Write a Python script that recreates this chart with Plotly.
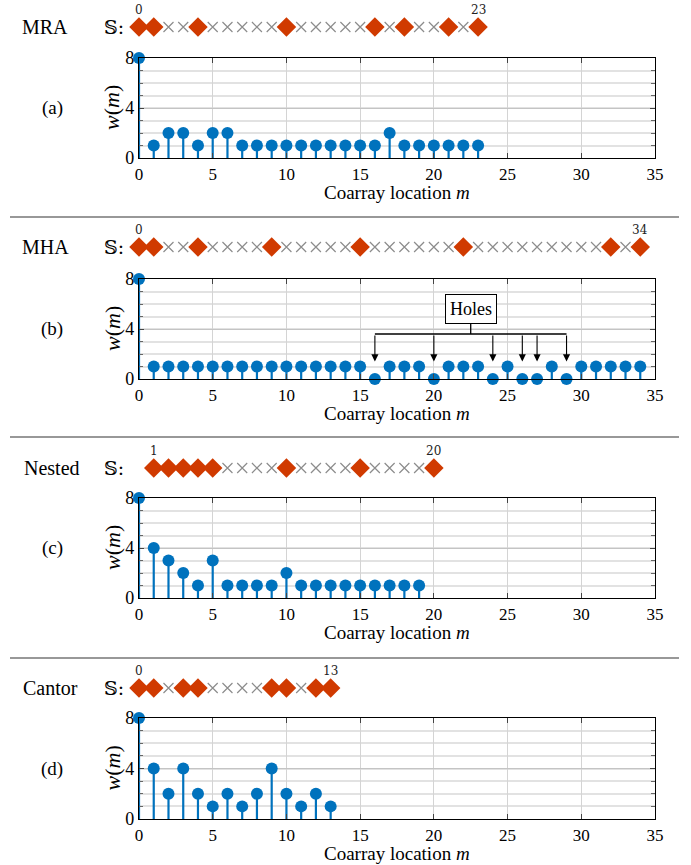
import plotly.graph_objects as go

# ---------------- data ----------------
panel_names = ["MRA", "MHA", "Nested", "Cantor"]
panel_tags = ["(a)", "(b)", "(c)", "(d)"]

mra_sensors = [0, 1, 4, 10, 16, 18, 21, 23]
mha_sensors = [0, 1, 4, 9, 15, 22, 32, 34]
nested_sensors = [1, 2, 3, 4, 5, 10, 15, 20]
cantor_sensors = [0, 1, 3, 4, 9, 10, 12, 13]

mra_weights = [8, 1, 2, 2, 1, 2, 2, 1, 1, 1, 1, 1, 1, 1, 1, 1, 1, 2, 1, 1, 1, 1, 1, 1]
mha_weights = [8, 1, 1, 1, 1, 1, 1, 1, 1, 1, 1, 1, 1, 1, 1, 1, 0, 1, 1, 1, 0, 1, 1, 1,
               0, 1, 0, 0, 1, 0, 1, 1, 1, 1, 1]
nested_weights = [8, 4, 3, 2, 1, 3, 1, 1, 1, 1, 2, 1, 1, 1, 1, 1, 1, 1, 1, 1]
cantor_weights = [8, 4, 2, 4, 2, 1, 2, 1, 2, 4, 2, 1, 2, 1]

x_ticks = [0, 5, 10, 15, 20, 25, 30, 35]
y_ticks = [0, 4, 8]

sensors_all = [mra_sensors, mha_sensors, nested_sensors, cantor_sensors]
weights_all = [mra_weights, mha_weights, nested_weights, cantor_weights]

# ---------------- layout helpers (pixel -> paper) ----------------
W, H = 691, 865
def px(x):
    return x / W
def py(y):
    return 1 - y / H

BLUE = "#0072BD"
RED = "#D03A00"
GREY = "#8c8c8c"
SERIF = "Liberation Serif"

plot_left, plot_right = 139, 655
plot_tops = [58, 279, 498, 718]
plot_bottoms = [158, 379, 598, 819]
row_y = [27, 247, 468, 688]
sep_y = [217, 437, 658]

fig = go.Figure()
annotations = []
shapes = []

def txt(x, y, text, size=19, family=SERIF, **kw):
    d = dict(x=x, y=y, xref="paper", yref="paper", text=text, showarrow=False,
             xanchor="center", yanchor="middle",
             font=dict(family=family, size=size, color="black"))
    d.update(kw)
    return d

for i in range(4):
    k = i + 1
    kr = i + 5
    xa = "x" if k == 1 else f"x{k}"
    ya = "y" if k == 1 else f"y{k}"
    xr = f"x{kr}"
    yr = f"y{kr}"
    w = weights_all[i]
    m = list(range(len(w)))

    # stems
    sx, sy = [], []
    for mm, ww in zip(m, w):
        sx += [mm, mm, None]
        sy += [0, ww, None]
    fig.add_trace(go.Scatter(x=sx, y=sy, mode="lines", line=dict(color=BLUE, width=2.2),
                             xaxis=xa, yaxis=ya, showlegend=False, hoverinfo="skip",
                             cliponaxis=False))
    fig.add_trace(go.Scatter(x=m, y=w, mode="markers",
                             marker=dict(color=BLUE, size=12, symbol="circle"),
                             xaxis=xa, yaxis=ya, showlegend=False, cliponaxis=False))

    # sensor row
    sens = sensors_all[i]
    start, end = min(sens), max(sens)
    empty = [p for p in range(start, end + 1) if p not in sens]
    fig.add_trace(go.Scatter(x=empty, y=[0] * len(empty), mode="markers",
                             marker=dict(symbol="x-thin", size=10,
                                         line=dict(color=GREY, width=1.2)),
                             xaxis=xr, yaxis=yr, showlegend=False, cliponaxis=False))
    fig.add_trace(go.Scatter(x=sens, y=[0] * len(sens), mode="markers",
                             marker=dict(symbol="diamond", size=15, color=RED),
                             xaxis=xr, yaxis=yr, showlegend=False, cliponaxis=False))
    for p in (start, end):
        annotations.append(dict(x=p, y=py(row_y[i] - 17), xref=xr, yref="paper",
                                text=str(p), showarrow=False,
                                xanchor="center", yanchor="middle",
                                font=dict(family="DejaVu Serif", size=12, color="#222")))

    # axes
    dom_x = [px(plot_left), px(plot_right)]
    dom_y = [py(plot_bottoms[i]), py(plot_tops[i])]
    xkey = "xaxis" if k == 1 else f"xaxis{k}"
    ykey = "yaxis" if k == 1 else f"yaxis{k}"
    fig.layout[xkey] = dict(domain=dom_x, anchor=ya, range=[0, 35], tickvals=x_ticks,
                            automargin=False,
                            showgrid=True, gridcolor="#d4d4d4", gridwidth=1,
                            ticks="inside", ticklen=5, tickcolor="#444",
                            showline=True, linecolor="black", linewidth=1.3, mirror="ticks",
                            zeroline=False, tickfont=dict(family=SERIF, size=17, color="black"))
    fig.layout[ykey] = dict(domain=dom_y, anchor=xa, range=[0, 8], tickvals=y_ticks,
                            automargin=False,
                            showgrid=True, gridcolor="#c4c4c4", gridwidth=1,
                            ticks="inside", ticklen=5, tickcolor="#444",
                            minor=dict(dtick=1, showgrid=True, gridcolor="#e2e2e2",
                                       gridwidth=2, ticks="inside", ticklen=4,
                                       tickcolor="#666"),
                            showline=True, linecolor="black", linewidth=1.3, mirror="ticks",
                            zeroline=False, tickfont=dict(family=SERIF, size=18, color="black"))
    fig.layout[f"xaxis{kr}"] = dict(domain=dom_x, anchor=yr, range=[0, 35], visible=False,
                                    automargin=False)
    fig.layout[f"yaxis{kr}"] = dict(domain=[py(row_y[i] + 10), py(row_y[i] - 10)],
                                    anchor=xr, range=[-1, 1], visible=False, automargin=False)

    # texts
    mid_y = (plot_tops[i] + plot_bottoms[i]) / 2
    annotations.append(txt((px(plot_left) + px(plot_right)) / 2, py(plot_bottoms[i] + 34),
                           "Coarray location <i>m</i>", size=19))
    annotations.append(txt(px(112), py(mid_y), "<i>w</i>(<i>m</i>)", size=22, textangle=-90))
    annotations.append(txt(px(52), py(mid_y), panel_tags[i]))
    name_x = [45, 45, 52, 50][i]
    annotations.append(txt(px(name_x), py(row_y[i]), panel_names[i], size=20))
    annotations.append(txt(px(114), py(row_y[i]), "\U0001D54A:", family="DejaVu Serif"))

# separators
for s in sep_y:
    shapes.append(dict(type="line", xref="paper", yref="paper", x0=px(10), x1=px(679),
                       y0=py(s), y1=py(s), line=dict(color="#333", width=1.2)))

# holes annotation on panel (b)
holes = [mm for mm, ww in enumerate(mha_weights) if ww == 0]
bracket_y = 3.6
tip_y = 1.4
box_x, box_y = 22.5, 5.6
shapes.append(dict(type="line", xref="x2", yref="y2", x0=min(holes), x1=max(holes),
                   y0=bracket_y, y1=bracket_y, line=dict(color="black", width=1.3)))
shapes.append(dict(type="line", xref="x2", yref="y2", x0=box_x, x1=box_x,
                   y0=bracket_y, y1=box_y, line=dict(color="black", width=1.3)))
for hh in holes:
    annotations.append(dict(x=hh, y=tip_y, ax=hh, ay=bracket_y, xref="x2", yref="y2",
                            axref="x2", ayref="y2", text="", showarrow=True,
                            arrowhead=2, arrowsize=1.3, arrowwidth=1.1, arrowcolor="black"))
annotations.append(dict(x=box_x, y=box_y, xref="x2", yref="y2", text="Holes",
                        showarrow=False, bgcolor="white", bordercolor="black",
                        borderwidth=1, borderpad=4, xanchor="center", yanchor="middle",
                        font=dict(family=SERIF, size=18, color="black")))

fig.update_layout(width=W, height=H, margin=dict(l=0, r=0, t=0, b=0, autoexpand=False),
                  paper_bgcolor="white", plot_bgcolor="white",
                  annotations=annotations, shapes=shapes, showlegend=False)

fig.write_html("out.html", config={"displayModeBar": False},
               post_script="document.body.style.margin='0px';")
